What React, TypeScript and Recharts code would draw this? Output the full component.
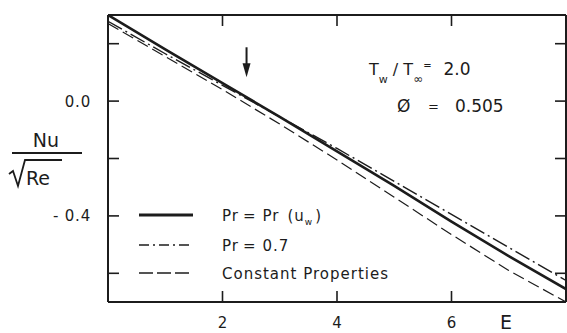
import React from "react";
import { LineChart, Line, XAxis, YAxis, ReferenceDot } from "recharts";

// Dimensionless heat transfer Nu/sqrt(Re) against E
const eValues = [0, 1, 2, 3, 4, 5, 6, 7, 8];
const nuPrVariable = [0.3, 0.18, 0.063, -0.055, -0.175, -0.295, -0.42, -0.54, -0.655];
const nuPrConstant = [0.278, 0.165, 0.055, -0.055, -0.165, -0.28, -0.395, -0.51, -0.625];
const nuConstProps = [0.27, 0.155, 0.04, -0.08, -0.205, -0.335, -0.465, -0.59, -0.7];

const xTicks = [2, 4, 6];
const yTicks = [0.2, 0, -0.2, -0.4, -0.6];
const yTickLabels: Record<string, string> = { "0": "0.0", "-0.4": "- 0.4" };

const arrowE = 2.42;
const arrowTip = 0.083;

const data = eValues.map((e, i) => ({
  e,
  variable: nuPrVariable[i],
  constant: nuPrConstant[i],
  props: nuConstProps[i],
}));

const INK = "#1c1c1c";
const FONT = "'DejaVu Sans', 'Liberation Sans', sans-serif";

const series = [
  { key: "variable", width: 2.6, dash: undefined as string | undefined },
  { key: "constant", width: 1.4, dash: "16 4 2 4" },
  { key: "props", width: 1.2, dash: "12 5" },
];

const TICK_LEN = 11;

const BottomTick = (p: any) => (
  <g>
    <line x1={p.x} x2={p.x} y1={p.y} y2={p.y - TICK_LEN} stroke={INK} strokeWidth={1.6} />
    <text x={p.x} y={p.y + 26} textAnchor="middle" fontFamily={FONT} fontSize={15} fill={INK}>
      {p.payload.value}
    </text>
  </g>
);

const TopTick = (p: any) => (
  <line x1={p.x} x2={p.x} y1={p.y} y2={p.y + TICK_LEN} stroke={INK} strokeWidth={1.6} />
);

const LeftTick = (p: any) => {
  const label = yTickLabels[String(p.payload.value)];
  return (
    <g>
      <line x1={p.x} x2={p.x + TICK_LEN} y1={p.y} y2={p.y} stroke={INK} strokeWidth={1.6} />
      {label && (
        <text x={p.x - 17} y={p.y} dy="0.36em" textAnchor="end" fontFamily={FONT} fontSize={15} fill={INK} letterSpacing={0.8}>
          {label}
        </text>
      )}
    </g>
  );
};

const RightTick = (p: any) => (
  <line x1={p.x} x2={p.x - TICK_LEN} y1={p.y} y2={p.y} stroke={INK} strokeWidth={1.6} />
);

const DownArrow = (p: any) => {
  const { cx, cy } = p;
  return (
    <g>
      <line x1={cx} x2={cx} y1={cy - 30} y2={cy - 12} stroke={INK} strokeWidth={2} />
      <path d={`M ${cx - 4} ${cy - 14} L ${cx + 4} ${cy - 14} L ${cx} ${cy} Z`} fill={INK} />
    </g>
  );
};

const legendItems = [
  { key: "variable", y: 215 },
  { key: "constant", y: 245 },
  { key: "props", y: 273 },
];

export default function App() {
  return (
    <div style={{ position: "absolute", left: 0, top: 0, width: 567, height: 333, background: "#fff" }}>
      <LineChart
        width={567}
        height={333}
        data={data}
        margin={{ top: 14, right: 0, bottom: 30, left: 107 }}
      >
        <XAxis
          dataKey="e"
          type="number"
          domain={[0, 8]}
          ticks={xTicks}
          height={1}
          tickSize={0}
          tickMargin={0}
          tickLine={false}
          tick={BottomTick}
          axisLine={{ stroke: INK, strokeWidth: 2 }}
          allowDataOverflow
        />
        <XAxis
          xAxisId="top"
          orientation="top"
          dataKey="e"
          type="number"
          domain={[0, 8]}
          ticks={xTicks}
          height={1}
          tickSize={0}
          tickMargin={0}
          tickLine={false}
          tick={TopTick}
          axisLine={{ stroke: INK, strokeWidth: 2 }}
          allowDataOverflow
        />
        <YAxis
          type="number"
          domain={[-0.7, 0.3]}
          ticks={yTicks}
          width={1}
          tickSize={0}
          tickMargin={0}
          tickLine={false}
          tick={LeftTick}
          axisLine={{ stroke: INK, strokeWidth: 2 }}
          allowDataOverflow
        />
        <YAxis
          yAxisId="right"
          orientation="right"
          type="number"
          domain={[-0.7, 0.3]}
          ticks={yTicks}
          width={1}
          tickSize={0}
          tickMargin={0}
          tickLine={false}
          tick={RightTick}
          axisLine={{ stroke: INK, strokeWidth: 2 }}
          allowDataOverflow
        />
        {series.map((s) => (
          <Line
            key={s.key}
            dataKey={s.key}
            type="linear"
            stroke={INK}
            strokeWidth={s.width}
            strokeDasharray={s.dash}
            dot={false}
            activeDot={false}
            isAnimationActive={false}
          />
        ))}
        <ReferenceDot x={arrowE} y={arrowTip} r={0} shape={DownArrow} />

        {/* Axis titles */}
        <g fontFamily={FONT} fill={INK}>
          <text x={46} y={147} textAnchor="middle" fontSize={19}>Nu</text>
          <line x1={12} x2={82} y1={153} y2={153} stroke={INK} strokeWidth={1.8} />
          <path d="M 9 174 L 13 171 L 18 186 L 25 160 L 62 160" fill="none" stroke={INK} strokeWidth={1.8} />
          <text x={26} y={185} fontSize={19}>Re</text>
          <text x={506} y={329} textAnchor="middle" fontSize={19}>E</text>
        </g>

        {/* Parameter annotation */}
        <g fontFamily={FONT} fill={INK} fontSize={16}>
          <text x={369} y={75}>
            T<tspan fontSize={11} dy={8}>w</tspan>
            <tspan dy={-8}> / T</tspan>
            <tspan fontSize={12} dy={8}>∞</tspan>
            <tspan dy={-14} fontSize={10}>=</tspan>
            <tspan dy={6} fontSize={17} dx={12}>2.0</tspan>
          </text>
          <text x={397} y={112} fontSize={17}>Ø</text>
          <text x={428} y={111} fontSize={13}>=</text>
          <text x={455} y={112} fontSize={17}>0.505</text>
        </g>

        {/* Key */}
        <g fontFamily={FONT} fill={INK} fontSize={15}>
          {legendItems.map((it, i) => (
            <line
              key={it.key}
              x1={139}
              x2={193}
              y1={it.y}
              y2={it.y}
              stroke={INK}
              strokeWidth={i === 0 ? 3 : 1.5}
              strokeDasharray={i === 1 ? "10 4 2 4" : i === 2 ? "14 4" : undefined}
            />
          ))}
          <text x={222} y={221} letterSpacing={1}>
            Pr<tspan dx={4}>=</tspan><tspan dx={6}>Pr</tspan><tspan dx={8}>(u</tspan>
            <tspan fontSize={9} dy={4}>w</tspan><tspan dy={-4} dx={2}>)</tspan>
          </text>
          <text x={222} y={251} letterSpacing={1}>
            Pr<tspan dx={4}>=</tspan><tspan dx={6}>0.7</tspan>
          </text>
          <text x={222} y={279} letterSpacing={1}>Constant Properties</text>
        </g>
      </LineChart>
    </div>
  );
}
